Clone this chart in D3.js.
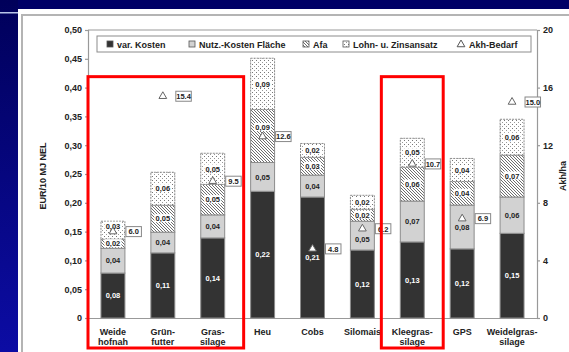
<!DOCTYPE html>
<html lang="de">
<head>
<meta charset="UTF-8">
<title>Kosten je 10 MJ NEL</title>
<style>
  html, body { margin: 0; padding: 0; background: #fff; }
  svg { display: block; }
  text { font-family: 'Liberation Sans', Arial, sans-serif; font-weight: bold; }
</style>
</head>
<body>
<svg id="chart" width="569" height="352" viewBox="0 0 569 352"></svg>
<script src="https://d3js.org/d3.v7.min.js"></script>
<script>
// categories (two-line labels as in the figure)
const categories = ["Weide hofnah", "Grünfutter", "Grassilage", "Heu", "Cobs", "Silomais", "Kleegrassilage", "GPS", "Weidelgrassilage"];
const catLines = [["Weide", "hofnah"], ["Grün-", "futter"], ["Gras-", "silage"], ["Heu"], ["Cobs"], ["Silomais"], ["Kleegras-", "silage"], ["GPS"], ["Weidelgras-", "silage"]];

// EUR / 10 MJ NEL
const varKosten  = [0.078, 0.113, 0.139, 0.220, 0.210, 0.118, 0.132, 0.120, 0.147];
const nutzKosten = [0.043, 0.036, 0.040, 0.050, 0.038, 0.050, 0.071, 0.076, 0.063];
const afa        = [0.016, 0.047, 0.053, 0.092, 0.031, 0.021, 0.059, 0.041, 0.073];
const lohn       = [0.031, 0.057, 0.054, 0.089, 0.024, 0.024, 0.050, 0.040, 0.062];
// Akh/ha
const akh = [6.0, 15.4, 9.5, 12.6, 4.8, 6.2, 10.7, 6.9, 15.0];

const leftTicks = [0, 0.05, 0.10, 0.15, 0.20, 0.25, 0.30, 0.35, 0.40, 0.45, 0.50];
const rightTicks = [0, 4, 8, 12, 16, 20];
const seriesNames = ["var. Kosten", "Nutz.-Kosten Fläche", "Afa", "Lohn- u. Zinsansatz"];
const highlighted = [[0, 2], [6, 6]];

const svg = d3.select("#chart");
const W = 569, H = 352;
const plot = {left: 88, right: 537, top: 30, bottom: 318};
const ink = "#222";

// ---- slide background ----
const defs = svg.append("defs");
const grad = defs.append("linearGradient").attr("id", "side").attr("x1", 0).attr("y1", 0).attr("x2", 0).attr("y2", 1);
grad.append("stop").attr("offset", "0%").attr("stop-color", "#00005a");
grad.append("stop").attr("offset", "100%").attr("stop-color", "#0c0ca4");

svg.append("rect").attr("x", 0).attr("y", 0).attr("width", W).attr("height", 9).attr("fill", "#000066");
svg.append("rect").attr("x", 0).attr("y", 0).attr("width", 18).attr("height", H).attr("fill", "url(#side)");
svg.append("rect").attr("x", 0).attr("y", 12).attr("width", 18).attr("height", 1.5).attr("fill", "#b8c4e8");
svg.append("rect").attr("x", 22).attr("y", 15).attr("width", W).attr("height", H)
  .attr("fill", "#fff").attr("stroke", "#b4b4b4").attr("stroke-width", 2);

// ---- patterns ----
const hatch = defs.append("pattern").attr("id", "hatch").attr("patternUnits", "userSpaceOnUse")
  .attr("width", 3).attr("height", 3);
hatch.append("rect").attr("width", 3).attr("height", 3).attr("fill", "#fff");
hatch.append("path").attr("d", "M-1,-1 L4,4 M2,-1 L4,1 M-1,2 L1,4").attr("stroke", "#5e5e5e").attr("stroke-width", 0.9);

const dots = defs.append("pattern").attr("id", "dots").attr("patternUnits", "userSpaceOnUse")
  .attr("width", 4).attr("height", 4);
dots.append("rect").attr("width", 4).attr("height", 4).attr("fill", "#fff");
dots.append("rect").attr("x", 0).attr("y", 0).attr("width", 1).attr("height", 1).attr("fill", "#777");
dots.append("rect").attr("x", 2).attr("y", 2).attr("width", 1).attr("height", 1).attr("fill", "#999");

const fills = ["#333333", "#d2d2d2", "url(#hatch)", "url(#dots)"];
const labelColors = ["#ffffff", ink, ink, ink];

// ---- scales ----
const x = d3.scaleBand().domain(categories).range([plot.left, plot.right]).paddingInner(0.52).paddingOuter(0.26);
const y = d3.scaleLinear().domain([0, 0.5]).range([plot.bottom, plot.top]);
const y2 = d3.scaleLinear().domain([0, 20]).range([plot.bottom, plot.top]);

const comma = v => v === 0 ? "0" : d3.format(".2f")(v).replace(".", ",");

// ---- frame & axes ----
svg.append("line").attr("x1", plot.left).attr("x2", plot.right).attr("y1", plot.top).attr("y2", plot.top)
  .attr("stroke", "#999").attr("stroke-width", 1.2);

const gL = svg.append("g").attr("transform", `translate(${plot.left},0)`)
  .call(d3.axisLeft(y).tickValues(leftTicks).tickFormat(comma).tickSize(3).tickPadding(3));
const gR = svg.append("g").attr("transform", `translate(${plot.right},0)`)
  .call(d3.axisRight(y2).tickValues(rightTicks).tickSize(3).tickPadding(3));
const gB = svg.append("g").attr("transform", `translate(0,${plot.bottom})`)
  .call(d3.axisBottom(x).tickSize(0).tickFormat(""));
[gL, gR, gB].forEach(g => {
  g.selectAll("path.domain, line").attr("stroke", "#999").attr("stroke-width", 1.2);
  g.selectAll("text").style("font-size", "9px").style("fill", ink)
    .style("font-family", "'Liberation Sans', Arial, sans-serif").style("font-weight", "bold");
});

svg.append("text").attr("transform", `translate(46,${(plot.top + plot.bottom) / 2 + 2}) rotate(-90)`)
  .attr("text-anchor", "middle").style("font-size", "9px").style("fill", ink).text("EUR/10 MJ NEL");
svg.append("text").attr("transform", `translate(566,${(plot.top + plot.bottom) / 2 + 2}) rotate(-90)`)
  .attr("text-anchor", "middle").style("font-size", "9px").style("fill", ink).text("Akh/ha");

// category labels
const catG = svg.append("g");
categories.forEach((c, i) => {
  catLines[i].forEach((ln, k) => {
    catG.append("text").attr("x", x(c) + x.bandwidth() / 2).attr("y", 335 + k * 9.5)
      .attr("text-anchor", "middle").style("font-size", "9px").style("fill", ink).text(ln);
  });
});

// ---- stacked bars ----
const rows = categories.map((c, i) => ({cat: c, i: i, s0: varKosten[i], s1: nutzKosten[i], s2: afa[i], s3: lohn[i]}));
const stack = d3.stack().keys(["s0", "s1", "s2", "s3"])(rows);

const layers = svg.append("g").selectAll("g").data(stack).join("g");
layers.each(function (layer, li) {
  const g = d3.select(this);
  g.selectAll("rect").data(layer).join("rect")
    .attr("x", d => x(d.data.cat))
    .attr("width", x.bandwidth())
    .attr("y", d => y(d[1]))
    .attr("height", d => y(d[0]) - y(d[1]))
    .attr("fill", fills[li])
    .attr("stroke", "#8c8c8c")
    .attr("stroke-width", 1)
    .attr("stroke-dasharray", li === 3 ? "2,1" : null);
});

// segment value labels (moved aside when the Akh marker sits on them)
const labG = svg.append("g");
stack.forEach((layer, li) => {
  layer.forEach(d => {
    const cx = x(d.data.cat) + x.bandwidth() / 2;
    const top = y(d[1]), bot = y(d[0]);
    let cy = (top + bot) / 2;
    const ty = y2(akh[d.data.i]);
    if (ty > top && ty < bot && Math.abs(ty - cy) < 7) {
      cy = ty > cy ? Math.max(ty - 9, top + 5) : Math.min(ty + 10, bot - 5);
    }
    const txt = comma(d[1] - d[0]);
    if (li >= 2) {
      labG.append("rect").attr("x", cx - 8.5).attr("y", cy - 4.5).attr("width", 17).attr("height", 8)
        .attr("fill", "#fff");
    }
    labG.append("text").attr("x", cx).attr("y", cy + 2.8).attr("text-anchor", "middle")
      .style("font-size", "7.5px").style("fill", labelColors[li]).text(txt);
  });
});

// ---- Akh-Bedarf markers ----
const tri = d3.symbol().type(d3.symbolTriangle).size(26);
const akhG = svg.append("g");
categories.forEach((c, i) => {
  const cx = x(c) + x.bandwidth() / 2;
  const cy = y2(akh[i]);
  akhG.append("path").attr("d", tri).attr("transform", `translate(${cx},${cy})`)
    .attr("fill", "#fff").attr("stroke", "#666").attr("stroke-width", 1);
  const bx = x(c) + x.bandwidth() + 1;
  akhG.append("rect").attr("x", bx).attr("y", cy - 5).attr("width", 15.5).attr("height", 10)
    .attr("fill", "#fff").attr("stroke", "#888").attr("stroke-width", 1);
  akhG.append("text").attr("x", bx + 7.75).attr("y", cy + 2.8).attr("text-anchor", "middle")
    .style("font-size", "7.5px").style("fill", ink).text(d3.format(".1f")(akh[i]));
});

// ---- legend ----
const leg = svg.append("g");
leg.append("rect").attr("x", 97).attr("y", 36).attr("width", 434).attr("height", 16)
  .attr("fill", "#fff").attr("stroke", "#8c8c8c").attr("stroke-width", 1);
const legX = [107, 189, 303, 343];
seriesNames.forEach((n, i) => {
  leg.append("rect").attr("x", legX[i]).attr("y", 41).attr("width", 6).attr("height", 6)
    .attr("fill", fills[i]).attr("stroke", "#555").attr("stroke-width", 0.8);
  leg.append("text").attr("x", legX[i] + 10).attr("y", 47.5).style("font-size", "9px").style("fill", ink).text(n);
});
leg.append("path").attr("d", tri).attr("transform", "translate(461,44.5)")
  .attr("fill", "#fff").attr("stroke", "#555").attr("stroke-width", 1);
leg.append("text").attr("x", 469).attr("y", 47.5).style("font-size", "9px").style("fill", ink).text("Akh-Bedarf");

// ---- red highlight frames ----
const step = x.step();
highlighted.forEach(([a, b]) => {
  const x0 = Math.max(plot.left, x(categories[a]) - step * 0.38);
  const x1 = x(categories[b]) + x.bandwidth() + step * 0.38;
  svg.append("rect").attr("x", x0).attr("y", y(0.419)).attr("width", x1 - x0).attr("height", H - 4 - y(0.419))
    .attr("fill", "none").attr("stroke", "#ff0000").attr("stroke-width", 3);
});
</script>
</body>
</html>
